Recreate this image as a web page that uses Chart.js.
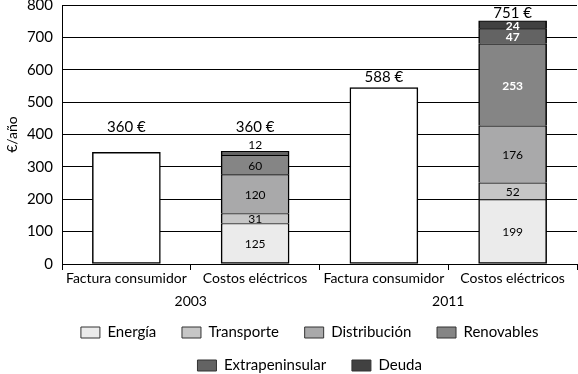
<!DOCTYPE html>
<html>
<head>
<meta charset="utf-8">
<script src="https://cdn.jsdelivr.net/npm/chart.js@4.4.0/dist/chart.umd.min.js"></script>
<style>
  html, body { margin: 0; padding: 0; background: #fff; }
  #wrap { width: 578px; height: 374px; }
</style>
</head>
<body>
<div id="wrap"><canvas id="chart" width="578" height="374"></canvas></div>
<script>
// categories and groups
const categories = ["Factura consumidor", "Costos eléctricos", "Factura consumidor", "Costos eléctricos"];
const years = ["2003", "2011"];
const totalLabels = ["360 €", "360 €", "588 €", "751 €"];

// series (€/año)
const factura = [345, null, 545, null];
const energia = [null, 125, null, 199];
const transporte = [null, 31, null, 52];
const distribucion = [null, 120, null, 176];
const renovables = [null, 60, null, 253];
const extrapeninsular = [null, 12, null, 47];
const deuda = [null, null, null, 24];

const yTicks = [0, 100, 200, 300, 400, 500, 600, 700, 800];

const FONT = "Lato, 'Noto Sans', sans-serif";

function seg(label, data, color, bottom) {
  return {
    label,
    data,
    backgroundColor: color,
    borderColor: "#000",
    borderWidth: { top: 1, left: 1.5, right: 1.5, bottom: bottom ? 1.5 : 0 },
    borderSkipped: false,
    stack: "s"
  };
}

const valueLabels = {
  id: "valueLabels",
  afterDatasetsDraw(chart) {
    const ctx = chart.ctx;
    ctx.save();
    ctx.textAlign = "center";
    ctx.textBaseline = "middle";
    const tops = categories.map(() => Infinity);
    const bumped = categories.map(() => false);
    chart.data.datasets.forEach((ds, di) => {
      const meta = chart.getDatasetMeta(di);
      meta.data.forEach((bar, i) => {
        const v = ds.data[i];
        if (v == null) return;
        tops[i] = Math.min(tops[i], bar.y);
        if (di === 0) return;
        const h = bar.base - bar.y;
        const white = i === 3 && di >= 4;
        ctx.font = (white ? "bold " : "") + "12px " + FONT;
        ctx.fillStyle = white ? "#fff" : "#000";
        if (h < 7) {
          ctx.fillText(v, bar.x, bar.y - 6);
          bumped[i] = true;
        } else {
          ctx.fillText(v, bar.x, (bar.y + bar.base) / 2 + 1);
        }
      });
    });
    // totals above the bars; a year group with a label above its stack shares one height
    const ys = tops.map((t, i) => Math.max(13, t - (bumped[i] ? 24 : 10)));
    years.forEach((y, g) => {
      const a = g * 2, b = g * 2 + 1;
      if (bumped[a] || bumped[b]) ys[a] = ys[b] = Math.min(ys[a], ys[b]);
    });
    ctx.font = "15px " + FONT;
    ctx.fillStyle = "#000";
    ys.forEach((y, i) => {
      ctx.fillText(totalLabels[i], chart.scales.x.getPixelForValue(i), y);
    });
    // year group labels
    ctx.font = "14px " + FONT;
    const xs = chart.scales.x;
    years.forEach((y, g) => {
      const x = (xs.getPixelForValue(g * 2) + xs.getPixelForValue(g * 2 + 1)) / 2;
      ctx.fillText(y, x, xs.top + 37);
    });
    ctx.restore();
  }
};

const legendShift = {
  id: "legendShift",
  afterLayout(chart) {
    const lg = chart.legend;
    lg.left = 50;
    lg.top += 9;
    lg.bottom += 9;
  }
};

new Chart(document.getElementById("chart"), {
  type: "bar",
  data: {
    labels: categories,
    datasets: [
      {
        label: "Factura",
        data: factura,
        backgroundColor: "#fff",
        borderColor: "#000",
        borderWidth: 1.5,
        borderSkipped: false,
        stack: "s"
      },
      seg("Energía", energia, "#ebebeb", true),
      seg("Transporte", transporte, "#c6c6c6"),
      seg("Distribución", distribucion, "#a9a9aa"),
      seg("Renovables", renovables, "#858585"),
      seg("Extrapeninsular", extrapeninsular, "#636363"),
      seg("Deuda", deuda, "#414141")
    ]
  },
  options: {
    responsive: false,
    animation: false,
    barThickness: 68,
    layout: { padding: { top: 0, right: 1, bottom: 0, left: 0 } },
    plugins: {
      tooltip: { enabled: false },
      legend: {
        position: "bottom",
        labels: {
          filter: item => item.datasetIndex !== 0,
          boxWidth: 19,
          boxHeight: 11,
          padding: 18,
          color: "#000",
          font: { family: FONT, size: 15 },
          generateLabels(chart) {
            return Chart.defaults.plugins.legend.labels.generateLabels(chart).map(l => {
              l.text = l.text + "  ";
              l.strokeStyle = "#333";
              l.lineWidth = 1;
              return l;
            });
          }
        }
      }
    },
    scales: {
      x: {
        stacked: true,
        grid: { offset: true, drawOnChartArea: false, drawTicks: true, tickLength: 6, color: "#000" },
        border: { color: "#000" },
        ticks: { color: "#000", font: { family: FONT, size: 14 }, padding: 0, maxRotation: 0 },
        afterFit(s) { s.height = 34; }
      },
      y: {
        stacked: true,
        min: 0,
        max: 800,
        afterBuildTicks(s) { s.ticks = yTicks.map(v => ({ value: v })); },
        grid: { color: "#000", drawTicks: false },
        border: { color: "#000" },
        ticks: { color: "#000", font: { family: FONT, size: 15 }, padding: 9 },
        title: { display: true, text: "€/año", color: "#000", font: { family: FONT, size: 14 }, padding: 4 },
        afterFit(s) { s.width = 62; s.paddingTop = 5; }
      }
    }
  },
  plugins: [valueLabels, legendShift]
});
</script>
</body>
</html>
